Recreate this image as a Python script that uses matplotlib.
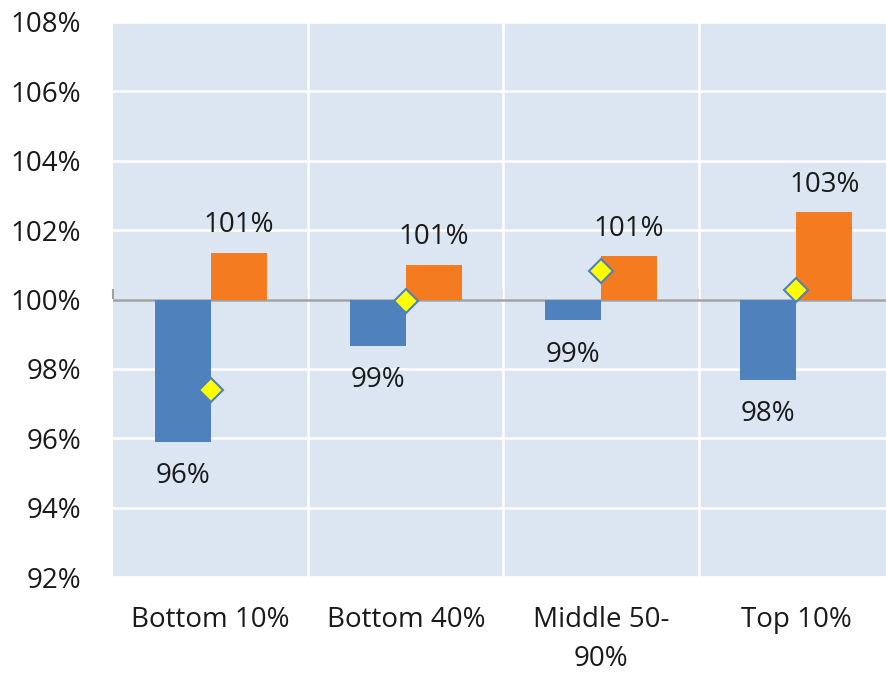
import matplotlib
matplotlib.use("Agg")
import matplotlib.pyplot as plt
import numpy as np

categories = ["Bottom 10%", "Bottom 40%", "Middle 50-\n90%", "Top 10%"]
series_low = [95.9, 98.67, 99.4, 97.69]      # blue bars (hang below 100%)
series_high = [101.35, 101.0, 101.24, 102.51]  # orange bars (above 100%)
markers = [97.38, 99.97, 100.81, 100.26]      # yellow diamonds
y_ticks = [92, 94, 96, 98, 100, 102, 104, 106, 108]

plt.rcParams['font.family'] = ['Open Sans', 'DejaVu Sans']

fig = plt.figure(figsize=(8.87, 6.74), dpi=100)
ax = fig.add_axes([113/887, 1 - 577/674, (894 - 113)/887, 555/674])
ax.set_facecolor('#DCE6F2')

x = np.arange(len(categories))
w = 0.287
base = 100.0
blue = '#4F81BD'
orange = '#F47B20'
txt = '#1a1a1a'
fs = 20

ax.set_ylim(92, 108)
ax.set_xlim(-0.5, len(categories) - 0.5)

for yt in y_ticks:
    ax.axhline(yt, color='white', lw=1.8, zorder=0.5)
for b in np.arange(0.5, len(categories) - 0.5, 1.0):
    ax.axvline(b, color='white', lw=1.8, zorder=0.5)

lows = np.array(series_low)
highs = np.array(series_high)
ax.bar(x - w/2, lows - base, bottom=base, width=w, color=blue, zorder=2)
ax.bar(x + w/2, highs - base, bottom=base, width=w, color=orange, zorder=2)
ax.axhline(base, color='#A0A0A0', lw=1.8, zorder=1.5)
ax.plot(x, markers, linestyle='none', marker='D', markersize=12,
        markerfacecolor='#FFFF00', markeredgecolor=blue, markeredgewidth=1.5, zorder=3)

for i in range(len(categories)):
    ax.annotate(f"{round(lows[i]):.0f}%", (x[i] - w/2, lows[i]), xytext=(0, -25),
                textcoords='offset points', ha='center', va='center', fontsize=fs, color=txt)
    ax.annotate(f"{round(highs[i]):.0f}%", (x[i] + w/2, highs[i]), xytext=(0, 20),
                textcoords='offset points', ha='center', va='center', fontsize=fs, color=txt)

ax.set_yticks(y_ticks)
ax.set_yticklabels([f"{v}%" for v in y_ticks], fontsize=fs, color=txt)
ax.tick_params(axis='y', length=0, pad=23)

ax.set_xticks(x)
ax.set_xticklabels(categories, fontsize=fs, color=txt, linespacing=1.5)
ax.tick_params(axis='x', length=0, pad=21)
for lbl in ax.get_xticklabels():
    lbl.set_va('top')

for s in ax.spines.values():
    s.set_visible(False)

sec = ax.secondary_xaxis((base - 92) / 16)
sec.set_xticks(np.arange(-0.5, len(categories) + 0.5, 1.0))
sec.set_xticklabels([])
sec.tick_params(axis='x', direction='out', length=7, width=1.5, color='#A0A0A0')
for s in sec.spines.values():
    s.set_visible(False)

fig.savefig("out.png", dpi=100)
